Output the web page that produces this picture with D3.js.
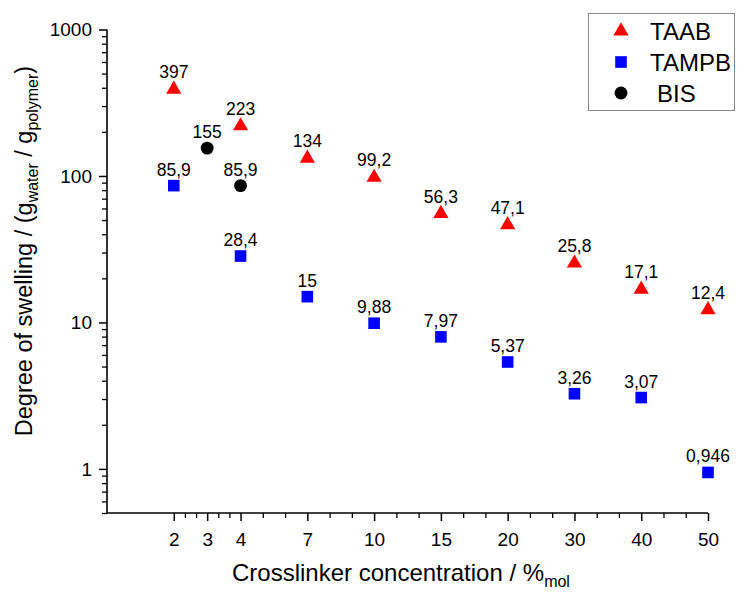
<!DOCTYPE html>
<html><head><meta charset="utf-8">
<script src="https://cdn.jsdelivr.net/npm/d3@7"></script>
<style>
body{margin:0;background:#fff;}
text{font-family:"Liberation Sans",Arial,sans-serif;fill:#000;}
</style></head>
<body><svg id="chart" width="737" height="592"></svg>
<script>
// ---- data ----
const xTicks = [2, 3, 4, 7, 10, 15, 20, 30, 40, 50];
const xSteps = [2, 4, 7, 10, 15, 20, 30, 40, 50];
const taabX = [2, 4, 7, 10, 15, 20, 30, 40, 50];
const taabY = [397, 223, 134, 99.2, 56.3, 47.1, 25.8, 17.1, 12.4];
const tampbX = [2, 4, 7, 10, 15, 20, 30, 40, 50];
const tampbY = [85.9, 28.4, 15, 9.88, 7.97, 5.37, 3.26, 3.07, 0.946];
const bisX = [3, 4];
const bisY = [155, 85.9];
const yTicks = [1, 10, 100, 1000];
const seriesNames = ["TAAB", "TAMPB", "BIS"];

// ---- layout ----
const L = 107, R = 708, T = 29.5, B = 513;
const step = (R - L) / 9; // one empty step left of "2"
const svg = d3.select("#chart");

const x = d3.scaleLinear()
  .domain(xSteps)
  .range(xSteps.map((d, i) => L + step * (i + 1)));
const y = d3.scaleLog().domain([0.5, 1000]).range([B, T]);

const fmt = v => String(v).replace(".", ",");

// axis lines
svg.append("line").attr("x1", L).attr("x2", R).attr("y1", B).attr("y2", B)
  .attr("stroke", "#000").attr("stroke-width", 1.6);
svg.append("line").attr("x1", L).attr("x2", L).attr("y1", T).attr("y2", B)
  .attr("stroke", "#000").attr("stroke-width", 1.6);

// x minor ticks
const xMinor = [];
for (let i = 0; i < xTicks.length - 1; i++) {
  const a = xTicks[i], b = xTicks[i + 1];
  xMinor.push(a + (b - a) / 3, a + 2 * (b - a) / 3);
}
const gxm = svg.append("g").attr("transform", `translate(0,${B})`)
  .call(d3.axisBottom(x).tickValues(xMinor).tickSize(5).tickFormat(""));
gxm.select(".domain").remove();
gxm.selectAll("line").attr("stroke-width", 1.3);

const gx = svg.append("g").attr("transform", `translate(0,${B})`)
  .call(d3.axisBottom(x).tickValues(xTicks).tickSize(8).tickPadding(12).tickFormat(d => d));
gx.select(".domain").remove();
gx.selectAll("line").attr("stroke-width", 1.5);
gx.selectAll("text").attr("font-size", 19).attr("font-family", "Liberation Sans, Arial, sans-serif");

// y minor ticks
const yMinor = [];
for (let e = -1; e <= 2; e++) {
  for (let k = 2; k <= 9; k++) {
    const v = k * Math.pow(10, e);
    if (v >= 0.5 && v <= 1000) yMinor.push(v);
  }
}
const gym = svg.append("g").attr("transform", `translate(${L},0)`)
  .call(d3.axisLeft(y).tickValues(yMinor).tickSize(5).tickFormat(""));
gym.select(".domain").remove();
gym.selectAll("line").attr("stroke-width", 1.3);

const gy = svg.append("g").attr("transform", `translate(${L},0)`)
  .call(d3.axisLeft(y).tickValues(yTicks).tickSize(8).tickPadding(7).tickFormat(d => d));
gy.select(".domain").remove();
gy.selectAll("line").attr("stroke-width", 1.5);
gy.selectAll("text").attr("font-size", 19).attr("font-family", "Liberation Sans, Arial, sans-serif");

// axis titles
const xt = svg.append("text").attr("x", 232).attr("y", 581).attr("font-size", 24);
xt.append("tspan").text("Crosslinker concentration / %");
xt.append("tspan").attr("font-size", 16).attr("dy", 6).text("mol");

const yt = svg.append("text").attr("transform", "translate(32,251) rotate(-90)")
  .attr("text-anchor", "middle").attr("font-size", 23.5);
yt.append("tspan").text("Degree of swelling / (g");
yt.append("tspan").attr("font-size", 16).attr("dy", 6).text("water");
yt.append("tspan").attr("dy", -6).text(" / g");
yt.append("tspan").attr("font-size", 16).attr("dy", 6).text("polymer");
yt.append("tspan").attr("dy", -6).text(")");

// markers
const tri = d3.symbol().type(d3.symbolTriangle).size(100);
const sq = d3.symbol().type(d3.symbolSquare).size(135);
const circ = d3.symbol().type(d3.symbolCircle).size(130);

const series = [
  {name: seriesNames[0], xs: taabX, ys: taabY, sym: tri, color: "#ff0000"},
  {name: seriesNames[1], xs: tampbX, ys: tampbY, sym: sq, color: "#0000ff"},
  {name: seriesNames[2], xs: bisX, ys: bisY, sym: circ, color: "#000000"}
];

series.forEach(s => {
  const pts = s.xs.map((xv, i) => ({x: xv, y: s.ys[i]}));
  const g = svg.append("g");
  g.selectAll("path").data(pts).enter().append("path")
    .attr("d", s.sym)
    .attr("transform", d => `translate(${x(d.x)},${y(d.y) + (s.sym === tri ? 1 : 0)})`)
    .attr("fill", s.color);
  g.selectAll("text").data(pts).enter().append("text")
    .attr("x", d => x(d.x)).attr("y", d => y(d.y) - 10)
    .attr("text-anchor", "middle").attr("font-size", 17.5)
    .text(d => fmt(d.y));
});

// legend
const lg = svg.append("g");
lg.append("rect").attr("x", 588.5).attr("y", 13.5).attr("width", 146).attr("height", 97)
  .attr("fill", "#fff").attr("stroke", "#888").attr("stroke-width", 1);
series.forEach((s, i) => {
  const cy = 31 + i * 31;
  lg.append("path").attr("d", s.sym).attr("transform", `translate(621,${cy})`).attr("fill", s.color);
  lg.append("text").attr("x", i === 2 ? 657 : 650).attr("y", cy + 8.5).attr("font-size", 24).text(s.name);
});
</script></body></html>
